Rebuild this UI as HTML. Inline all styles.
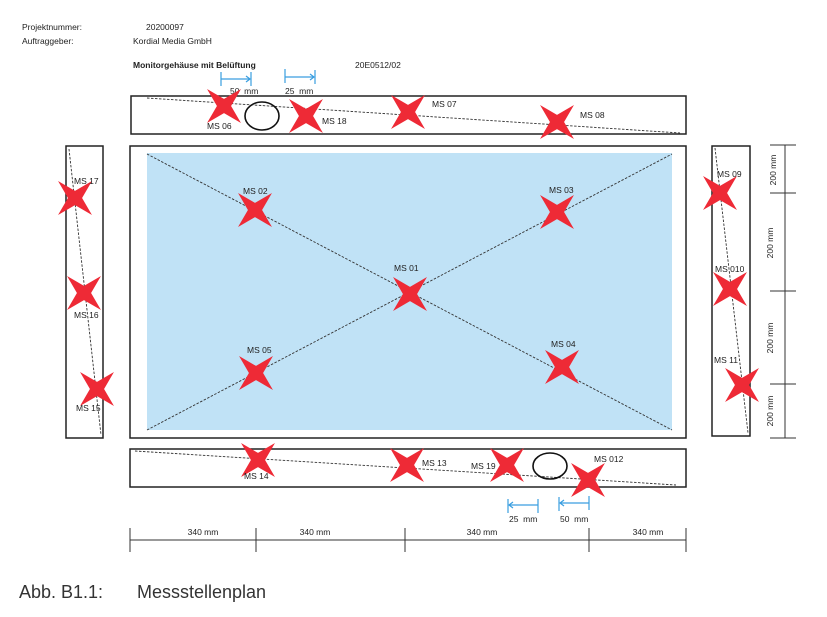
<!DOCTYPE html>
<html><head><meta charset="utf-8"><style>
html,body{margin:0;padding:0;background:#fff}
svg{display:block}
text{font-family:"Liberation Sans",sans-serif;fill:#222}
.s{font-size:8.5px}
</style></head><body>
<svg width="827" height="617" viewBox="0 0 827 617" xmlns="http://www.w3.org/2000/svg">
<defs>
<path id="st" d="M0,-24 L5,-5 L24,0 L5,5 L0,24 L-5,5 L-24,0 L-5,-5 Z" fill="#ee2a36" transform="rotate(45)"/>
</defs>
<text x="22" y="30" class="s">Projektnummer:</text>
<text x="146" y="30" class="s">20200097</text>
<text x="22" y="44" class="s">Auftraggeber:</text>
<text x="133" y="44" class="s">Kordial Media GmbH</text>
<text x="133" y="68" class="s" font-weight="bold">Monitorgehäuse mit Belüftung</text>
<text x="355" y="68" class="s">20E0512/02</text>

<g stroke="#3a9ee0" stroke-width="1.2" fill="none">
<line x1="221" y1="72" x2="221" y2="86"/><line x1="251" y1="72" x2="251" y2="86"/><line x1="221" y1="79" x2="250" y2="79"/><polyline points="246,76 250,79 246,82"/>
<line x1="285" y1="69" x2="285" y2="83"/><line x1="315" y1="70" x2="315" y2="84"/><line x1="285" y1="77" x2="314" y2="77"/><polyline points="310,74 314,77 310,80"/>
<line x1="508" y1="499" x2="508" y2="513"/><line x1="538" y1="499" x2="538" y2="513"/><line x1="509" y1="505" x2="538" y2="505"/><polyline points="513,502 509,505 513,508"/>
<line x1="559" y1="497" x2="559" y2="511"/><line x1="589" y1="496" x2="589" y2="510"/><line x1="560" y1="503" x2="589" y2="503"/><polyline points="564,500 560,503 564,506"/>
</g>
<text x="230" y="94" class="s">50 &#160;mm</text>
<text x="285" y="94" class="s">25 &#160;mm</text>
<text x="509" y="522" class="s">25 &#160;mm</text>
<text x="560" y="522" class="s">50 &#160;mm</text>

<g fill="none" stroke="#222" stroke-width="1.5">
<rect x="131" y="96" width="555" height="38"/>
<rect x="130" y="146" width="556" height="292"/>
<rect x="66" y="146" width="37" height="292"/>
<rect x="712" y="146" width="38" height="290"/>
<rect x="130" y="449" width="556" height="38"/>
</g>
<rect x="147" y="153" width="525" height="277" fill="#c0e2f6"/>

<g stroke="#333" stroke-width="0.9" stroke-dasharray="2.5,1.5" fill="none">
<line x1="147" y1="98" x2="680" y2="133"/>
<line x1="69" y1="149" x2="101" y2="435"/>
<line x1="715" y1="148" x2="748" y2="433"/>
<line x1="135" y1="451" x2="676" y2="485"/>
<line x1="147" y1="154" x2="672" y2="430"/>
<line x1="147" y1="430" x2="672" y2="154"/>
</g>
<g fill="none" stroke="#111" stroke-width="1.6">
<ellipse cx="262" cy="116" rx="17" ry="14"/>
<ellipse cx="550" cy="466" rx="17" ry="13"/>
</g>

<use href="#st" x="224" y="106"/><use href="#st" x="306" y="116"/><use href="#st" x="408" y="112"/><use href="#st" x="557" y="122"/>
<use href="#st" x="75" y="198"/><use href="#st" x="84" y="293"/><use href="#st" x="97" y="389"/>
<use href="#st" x="255" y="210"/><use href="#st" x="557" y="212"/><use href="#st" x="410" y="294"/><use href="#st" x="256" y="373"/><use href="#st" x="562" y="367"/>
<use href="#st" x="720" y="193"/><use href="#st" x="730" y="289"/><use href="#st" x="742" y="385"/>
<use href="#st" x="258" y="460"/><use href="#st" x="407" y="465"/><use href="#st" x="507" y="465"/><use href="#st" x="588" y="480"/>

<text x="207" y="129" class="s">MS 06</text>
<text x="322" y="124" class="s">MS 18</text>
<text x="432" y="107" class="s">MS 07</text>
<text x="580" y="118" class="s">MS 08</text>
<text x="74" y="184" class="s">MS 17</text>
<text x="74" y="318" class="s">MS 16</text>
<text x="76" y="411" class="s">MS 15</text>
<text x="243" y="194" class="s">MS 02</text>
<text x="549" y="193" class="s">MS 03</text>
<text x="394" y="271" class="s">MS 01</text>
<text x="247" y="353" class="s">MS 05</text>
<text x="551" y="347" class="s">MS 04</text>
<text x="717" y="177" class="s">MS 09</text>
<text x="715" y="272" class="s">MS 010</text>
<text x="714" y="363" class="s">MS 11</text>
<text x="244" y="479" class="s">MS 14</text>
<text x="422" y="466" class="s">MS 13</text>
<text x="471" y="469" class="s">MS 19</text>
<text x="594" y="462" class="s">MS 012</text>

<g stroke="#333" stroke-width="1" fill="none">
<line x1="785" y1="145" x2="785" y2="438"/>
<line x1="770" y1="145" x2="796" y2="145"/><line x1="770" y1="193" x2="796" y2="193"/>
<line x1="770" y1="291" x2="796" y2="291"/><line x1="770" y1="384" x2="796" y2="384"/>
<line x1="770" y1="438" x2="796" y2="438"/>
</g>
<text class="s" transform="translate(776,170) rotate(-90)" text-anchor="middle">200 mm</text>
<text class="s" transform="translate(773,243) rotate(-90)" text-anchor="middle">200 mm</text>
<text class="s" transform="translate(773,338) rotate(-90)" text-anchor="middle">200 mm</text>
<text class="s" transform="translate(773,411) rotate(-90)" text-anchor="middle">200 mm</text>

<g stroke="#333" stroke-width="1" fill="none">
<line x1="130" y1="540" x2="686" y2="540"/>
<line x1="130" y1="528" x2="130" y2="552"/><line x1="256" y1="528" x2="256" y2="552"/>
<line x1="405" y1="528" x2="405" y2="552"/><line x1="589" y1="528" x2="589" y2="552"/>
<line x1="686" y1="528" x2="686" y2="552"/>
</g>
<text x="203" y="535" class="s" text-anchor="middle">340 mm</text>
<text x="315" y="535" class="s" text-anchor="middle">340 mm</text>
<text x="482" y="535" class="s" text-anchor="middle">340 mm</text>
<text x="648" y="535" class="s" text-anchor="middle">340 mm</text>

<text x="19" y="598" font-size="18" style="fill:#333">Abb. B1.1:</text>
<text x="137" y="598" font-size="18" style="fill:#333">Messstellenplan</text>
</svg>
</body></html>
